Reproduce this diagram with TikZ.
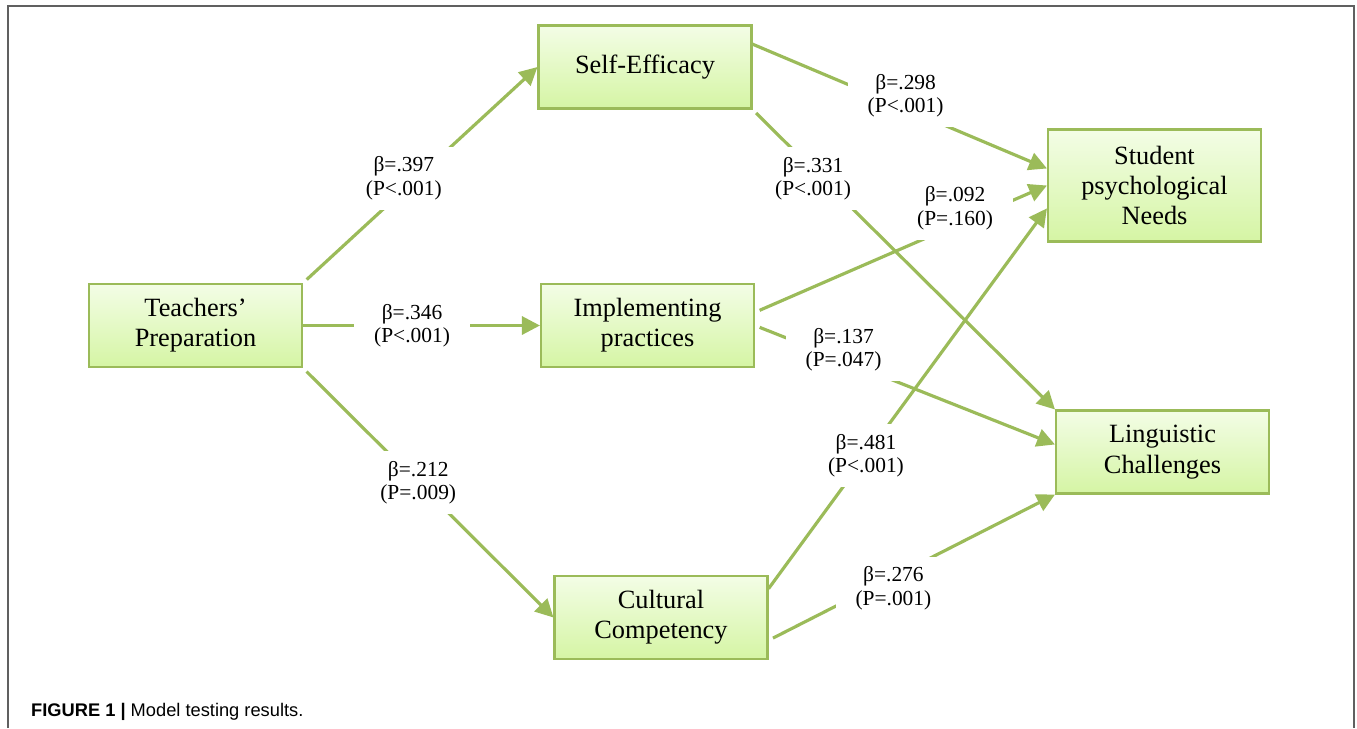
\documentclass[tikz,border=0pt]{standalone}
\usepackage{fontspec}
\setmainfont{Liberation Serif}
\newfontfamily\capfont{Liberation Sans}
\usetikzlibrary{arrows.meta}
\definecolor{boxedge}{HTML}{9BBB59}
\definecolor{boxtop}{HTML}{F3FDE6}
\definecolor{boxbot}{HTML}{D5F5A4}
\definecolor{framegray}{HTML}{606060}
\begin{document}
\begin{tikzpicture}[x=0.02cm, y=-0.02cm,
  box/.style={draw=boxedge, line width=1.2pt, top color=boxtop, bottom color=boxbot, minimum width=4.26cm, minimum height=1.66cm, align=center, font=\fontsize{15}{17.2}\selectfont},
  lbl/.style={fill=white, align=center, inner xsep=0.4cm, inner ysep=0.2cm, font=\fontsize{12.2}{13.4}\selectfont},
  arr/.style={draw=boxedge, line width=1.8pt, -{Triangle[length=0.36cm, width=0.36cm]}}]
\useasboundingbox (0,0) rectangle (1357,728);
\draw[framegray, line width=1.1pt] (8,728) |- (1354,6) -- (1354,728);

\node (tp) at (195.5,325.5) [box] {Teachers'\\Preparation};
\node (se) at (645,67) [box] {Self-Efficacy};
\node (ip) at (647.5,325.5) [box] {Implementing\\practices};
\node (cc) at (661,617.5) [box] {Cultural\\Competency};
\node (spn) at (1154.5,185.5) [box, minimum height=2.24cm] {Student\\psychological\\Needs};
\node (lc) at (1162.5,452) [box] {Linguistic\\Challenges};

\draw[arr, shorten <=0.1cm] (tp.north east) to node[lbl, pos=.43, yshift=0.24cm] {β=.397\\(P<.001)} (se.west);
\draw[arr] (tp.east) to node[lbl, pos=.46] {β=.346\\(P<.001)} (ip.west);
\draw[arr, shorten <=0.1cm] (tp.south east) to node[lbl, pos=.46] {β=.212\\(P=.009)} (cc.west);
\draw[arr] (se.12) to node[lbl, pos=.52, yshift=0.26cm] {β=.298\\(P<.001)} (spn.171);
\draw[arr, shorten <=0.1cm] (se.south east) to node[lbl, pos=.2, yshift=-0.18cm] {β=.331\\(P<.001)} (lc.north west);
\draw[arr, shorten <=0.1cm] (ip.7) to node[lbl, pos=.685, yshift=0.34cm] {β=.092\\(P=.160)} (spn.west);
\draw[arr, shorten <=0.1cm] (ip.east) to node[lbl, pos=.295, yshift=0.22cm] {β=.137\\(P=.047)} (lc.176);
\draw[arr] (cc.15) to node[lbl, pos=.35] {β=.481\\(P<.001)} (spn.192);
\draw[arr, shorten <=0.1cm] (cc.-12) to node[lbl, pos=.436, yshift=-0.23cm] {β=.276\\(P=.001)} (lc.south west);

\node (cap) at (25,716) [anchor=base west, font=\capfont\fontsize{10.4}{12}\selectfont] {\textbf{FIGURE 1 |} Model testing results.};
\end{tikzpicture}
\end{document}
